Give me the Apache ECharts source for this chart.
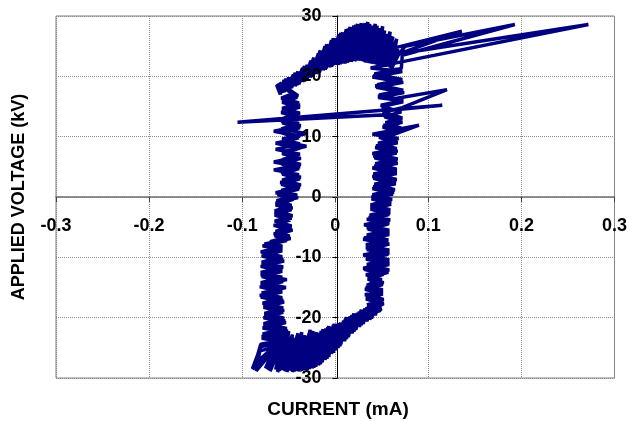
<!DOCTYPE html>
<html>
<head>
<meta charset="utf-8">
<script src="https://cdn.jsdelivr.net/npm/echarts@6/dist/echarts.min.js"></script>
<style>
html,body{margin:0;padding:0;background:#fff;}
#chart{width:630px;height:421px;}
</style>
</head>
<body>
<div id="chart"></div>
<script>
// ---- Data: [current (mA), applied voltage (kV)] pairs, in drawing order ----
const xTicks = [-0.3, -0.2, -0.1, 0, 0.1, 0.2, 0.3];
const yTicks = [-30, -20, -10, 0, 10, 20, 30];

const rightUp1 = [[0.042,-18.9],[0.036,-18.2],[0.051,-17.4],[0.034,-16.6],[0.051,-15.9],[0.033,-15.0],[0.052,-14.2],[0.035,-13.4],[0.057,-12.5],[0.030,-11.8],[0.058,-11.0],[0.034,-10.1],[0.058,-9.3],[0.033,-8.4],[0.057,-7.6],[0.031,-6.8],[0.058,-6.0],[0.034,-5.1],[0.058,-4.3],[0.036,-3.4],[0.059,-2.6],[0.038,-1.8],[0.060,-0.9],[0.039,0.0],[0.063,0.8],[0.041,1.7],[0.065,2.5],[0.040,3.4],[0.066,4.2],[0.042,5.1],[0.066,5.9],[0.041,6.8],[0.067,7.6],[0.044,8.5],[0.066,9.3],[0.048,10.2],[0.070,11.0],[0.052,11.9],[0.071,12.7],[0.050,13.6]];
const midSpike1 = [[-0.105,12.4],[0.115,15.2],[0.062,14.4]];
const rightTop1 = [[0.049,15.2],[0.073,16.0],[0.047,16.9],[0.073,17.7],[0.045,18.6],[0.072,19.5],[0.042,20.4],[0.071,21.3],[0.072,23.5]];
const topSpike1 = [[0.193,28.6],[0.075,25.0]];
const topArc1 = [[0.058,21.5],[0.064,25.4],[0.050,21.8],[0.056,27.0],[0.043,22.0],[0.047,28.0],[0.036,22.2],[0.040,28.4],[0.029,22.5],[0.032,28.8],[0.021,22.5],[0.024,28.7],[0.013,22.3],[0.016,28.2],[0.005,22.0],[0.008,27.3],[-0.003,21.8],[0.000,26.3],[-0.010,21.3],[-0.007,25.3],[-0.017,20.7],[-0.014,24.2],[-0.024,20.0],[-0.021,23.0],[-0.031,19.4],[-0.030,21.9],[-0.039,18.7],[-0.040,20.8],[-0.047,18.1],[-0.050,19.8],[-0.055,17.4],[-0.060,18.9]];
const leftDown1 = [[-0.040,16.8],[-0.057,16.0],[-0.038,15.2],[-0.057,14.3],[-0.039,13.5],[-0.058,12.6],[-0.037,11.8],[-0.066,10.9],[-0.038,10.1],[-0.057,9.2],[-0.031,8.4],[-0.057,7.5],[-0.039,6.7],[-0.066,5.8],[-0.038,5.0],[-0.058,4.1],[-0.037,3.3],[-0.059,2.4],[-0.038,1.6],[-0.064,0.7],[-0.040,-0.1],[-0.064,-1.0],[-0.046,-1.8],[-0.065,-2.7],[-0.047,-3.5],[-0.064,-4.4],[-0.047,-5.2],[-0.066,-6.1],[-0.048,-6.9],[-0.076,-7.8],[-0.057,-8.6],[-0.078,-9.5],[-0.056,-10.3],[-0.079,-11.2],[-0.057,-12.0],[-0.080,-12.9],[-0.052,-13.7],[-0.080,-14.6],[-0.057,-15.4],[-0.081,-16.3],[-0.056,-17.1],[-0.077,-18.0],[-0.055,-18.8],[-0.076,-19.7],[-0.054,-20.5],[-0.077,-21.4],[-0.051,-22.2],[-0.079,-23.1],[-0.048,-23.9],[-0.080,-24.8]];
const bottomArc1 = [[-0.089,-28.5],[-0.066,-25.2],[-0.075,-28.4],[-0.056,-23.0],[-0.064,-28.6],[-0.050,-22.2],[-0.056,-28.7],[-0.043,-23.4],[-0.048,-28.8],[-0.036,-22.4],[-0.040,-28.9],[-0.030,-23.0],[-0.032,-28.7],[-0.024,-22.2],[-0.025,-28.4],[-0.017,-22.5],[-0.018,-27.9],[-0.010,-21.8],[-0.011,-27.0],[-0.004,-21.5],[-0.004,-26.0],[0.002,-21.0],[0.003,-25.0],[0.009,-20.5],[0.010,-23.9],[0.016,-19.8],[0.018,-22.6],[0.024,-19.2],[0.026,-21.5],[0.032,-18.5],[0.034,-20.6],[0.040,-17.8],[0.043,-19.6],[0.048,-17.2]];
const rightUp2 = [[0.034,-17.9],[0.052,-17.0],[0.032,-16.2],[0.051,-15.4],[0.034,-14.6],[0.050,-13.7],[0.033,-12.9],[0.058,-12.1],[0.034,-11.2],[0.058,-10.4],[0.030,-9.6],[0.058,-8.8],[0.033,-7.9],[0.057,-7.1],[0.034,-6.3],[0.058,-5.5],[0.031,-4.6],[0.059,-3.8],[0.037,-3.0],[0.059,-2.1],[0.038,-1.3],[0.061,-0.4],[0.040,0.4],[0.064,1.2],[0.042,2.1],[0.066,2.9],[0.041,3.8],[0.066,4.6],[0.043,5.5],[0.067,6.3],[0.040,7.2],[0.066,8.0],[0.046,8.9],[0.068,9.7]];
const midSpike2 = [[0.040,10.4],[0.090,11.9],[0.058,10.1]];
const rightUp2b = [[0.050,10.6],[0.071,11.4],[0.054,12.3],[0.072,13.1],[0.051,14.0],[0.072,14.8]];
const midSpike3 = [[0.120,17.8],[0.060,16.2]];
const rightTop2 = [[0.046,16.5],[0.074,17.3],[0.044,18.2],[0.073,19.0],[0.040,19.9],[0.072,20.8],[0.038,21.4],[0.071,22.4]];
const topSpike2 = [[0.272,28.6],[0.070,23.8],[0.136,27.5],[0.066,24.8]];
const topArc2 = [[0.061,22.0],[0.066,26.2],[0.054,21.6],[0.059,27.4],[0.046,21.9],[0.051,28.3],[0.039,22.1],[0.043,28.7],[0.032,22.3],[0.035,29.0],[0.025,22.6],[0.028,28.8],[0.017,22.4],[0.020,28.4],[0.009,22.1],[0.012,27.8],[0.001,21.9],[0.004,27.0],[-0.006,21.5],[-0.004,26.0],[-0.013,21.0],[-0.011,25.0],[-0.020,20.4],[-0.018,23.8],[-0.027,19.8],[-0.026,22.6],[-0.035,19.1],[-0.035,21.4],[-0.043,18.4],[-0.045,20.3],[-0.051,17.8],[-0.055,19.4],[-0.059,17.0],[-0.063,18.6]];
const leftDown2 = [[-0.044,17.2],[-0.058,16.4],[-0.039,15.6],[-0.057,14.7],[-0.038,13.9],[-0.057,13.0],[-0.039,12.2],[-0.058,11.3],[-0.031,10.5],[-0.057,9.6],[-0.038,8.8],[-0.064,7.9],[-0.038,7.1],[-0.057,6.2],[-0.037,5.4],[-0.066,4.5],[-0.039,3.7],[-0.057,2.8],[-0.037,2.0],[-0.058,1.1],[-0.041,0.3],[-0.063,-0.6],[-0.047,-1.4],[-0.065,-2.3],[-0.046,-3.1],[-0.065,-4.0],[-0.047,-4.8],[-0.064,-5.7],[-0.049,-6.5],[-0.070,-7.4],[-0.057,-8.2],[-0.080,-9.1],[-0.057,-9.9],[-0.079,-10.8],[-0.056,-11.6],[-0.080,-12.5],[-0.057,-13.3],[-0.080,-14.2],[-0.053,-15.0],[-0.079,-15.9],[-0.057,-16.7],[-0.078,-17.6],[-0.056,-18.4],[-0.076,-19.3],[-0.055,-20.1],[-0.077,-21.0],[-0.052,-21.8],[-0.078,-22.7],[-0.050,-23.5],[-0.080,-24.4]];
const bottomArc2 = [[-0.086,-27.6],[-0.060,-24.0],[-0.070,-28.9],[-0.053,-22.5],[-0.060,-28.8],[-0.046,-22.8],[-0.052,-29.0],[-0.040,-22.6],[-0.044,-28.9],[-0.033,-22.9],[-0.036,-28.8],[-0.027,-22.0],[-0.028,-28.5],[-0.020,-22.4],[-0.021,-28.1],[-0.013,-21.9],[-0.014,-27.4],[-0.007,-21.4],[-0.007,-26.5],[-0.001,-21.0],[0.000,-25.4],[0.006,-20.8],[0.006,-24.4],[0.012,-19.9],[0.014,-23.2],[0.020,-19.3],[0.022,-22.0],[0.028,-18.7],[0.030,-21.0],[0.036,-18.0],[0.039,-20.1],[0.046,-17.3],[0.049,-18.8]];
const rightUp3 = [[0.040,-18.6],[0.052,-17.7],[0.033,-16.9],[0.051,-16.1],[0.032,-15.3],[0.051,-14.5],[0.035,-13.6],[0.052,-12.8],[0.031,-12.0],[0.058,-11.2],[0.033,-10.3],[0.057,-9.5],[0.034,-8.7],[0.058,-7.8],[0.030,-7.0],[0.058,-6.2],[0.035,-5.3],[0.057,-4.5],[0.034,-3.7],[0.058,-2.9],[0.038,-2.0],[0.060,-1.2],[0.039,-0.3],[0.062,0.5],[0.040,1.4],[0.065,2.2],[0.041,3.1],[0.066,3.9],[0.040,4.8],[0.067,5.6],[0.042,6.5],[0.066,7.3],[0.043,8.2],[0.067,9.0],[0.047,9.9],[0.069,10.7],[0.051,11.6],[0.072,12.4],[0.053,13.3],[0.071,14.1],[0.050,15.0],[0.073,15.8],[0.046,16.7],[0.073,17.5],[0.043,18.4],[0.072,19.3],[0.041,20.1],[0.071,21.0],[0.060,21.2],[0.070,24.2]];
const topArc3 = [[0.063,22.6],[0.068,25.0],[0.055,22.2],[0.062,26.6],[0.048,22.4],[0.053,27.6],[0.041,22.3],[0.045,28.4],[0.034,22.5],[0.037,28.7],[0.027,22.7],[0.030,28.6],[0.019,22.6],[0.022,28.5],[0.011,22.2],[0.014,27.9],[0.003,21.9],[0.006,27.2],[-0.004,21.6],[-0.002,26.3],[-0.011,21.1],[-0.009,25.3],[-0.018,20.6],[-0.016,24.3],[-0.025,20.0],[-0.023,23.1],[-0.033,19.2],[-0.033,21.7],[-0.041,18.6],[-0.043,20.6],[-0.049,17.9],[-0.053,19.6],[-0.057,17.3],[-0.061,18.8]];
const leftDown3 = [[-0.041,16.5],[-0.057,15.7],[-0.038,14.9],[-0.058,14.0],[-0.039,13.2],[-0.057,12.3],[-0.038,11.5],[-0.057,10.6],[-0.039,9.8],[-0.064,8.9],[-0.038,8.1],[-0.057,7.2],[-0.037,6.4],[-0.058,5.5],[-0.039,4.7],[-0.057,3.8],[-0.038,3.0],[-0.058,2.1],[-0.039,1.3],[-0.062,0.4],[-0.045,-0.4],[-0.064,-1.3],[-0.047,-2.1],[-0.065,-3.0],[-0.048,-3.8],[-0.066,-4.7],[-0.046,-5.5],[-0.065,-6.4],[-0.052,-7.2],[-0.078,-8.1],[-0.057,-8.9],[-0.079,-9.8],[-0.055,-10.6],[-0.080,-11.5],[-0.057,-12.3],[-0.079,-13.2],[-0.056,-14.0],[-0.081,-14.9],[-0.057,-15.7],[-0.080,-16.6],[-0.055,-17.4],[-0.077,-18.3],[-0.056,-19.1],[-0.077,-20.0],[-0.053,-20.8],[-0.078,-21.7],[-0.050,-22.5],[-0.079,-23.4],[-0.047,-24.2],[-0.081,-25.5]];
const bottomArc3 = [[-0.085,-28.8],[-0.062,-24.6],[-0.072,-28.7],[-0.054,-23.2],[-0.062,-29.0],[-0.047,-23.8],[-0.054,-28.9],[-0.041,-23.1],[-0.046,-29.0],[-0.034,-23.5],[-0.038,-28.9],[-0.028,-22.6],[-0.030,-28.6],[-0.022,-22.8],[-0.023,-28.3],[-0.015,-22.2],[-0.016,-27.7],[-0.008,-21.6],[-0.009,-26.8],[-0.002,-21.2],[-0.002,-25.8],[0.004,-20.9],[0.005,-24.7],[0.011,-20.2],[0.012,-23.5],[0.018,-19.6],[0.020,-22.3],[0.026,-19.0],[0.028,-21.2],[0.034,-18.3],[0.037,-20.3],[0.044,-17.6],[0.047,-19.2]];

const loopPoints = [].concat(
  rightUp1, midSpike1, rightTop1, topSpike1, topArc1, leftDown1, bottomArc1,
  rightUp2, midSpike2, rightUp2b, midSpike3, rightTop2, topSpike2, topArc2, leftDown2, bottomArc2,
  rightUp3, topArc3, leftDown3, bottomArc3
);

// ---- Chart ----
const FONT = '"Liberation Sans", Arial, sans-serif';
const GRID = {left: 56, right: 11, top: 16, bottom: 43};
const W = 630, H = 421;
const plotW = W - GRID.left - GRID.right, plotH = H - GRID.top - GRID.bottom;
const xMin = xTicks[0], xMax = xTicks[xTicks.length - 1];
const yMin = yTicks[0], yMax = yTicks[yTicks.length - 1];
// shift axes so they cross at zero (offset is measured outward from the grid edge)
const yAxisOffset = -plotW * (0 - xMin) / (xMax - xMin);
const xAxisOffset = -plotH * (0 - yMin) / (yMax - yMin);

const chart = echarts.init(document.getElementById('chart'), null, {renderer: 'canvas'});
const fmt = v => {
  const r = Math.round(v * 10) / 10;
  return (Math.abs(r) < 1e-9 ? 0 : r).toString();
};
const gridLine = {show: true, lineStyle: {color: '#8c8c8c', width: 1, type: [1, 1]}};
const labelStyle = {fontSize: 18, fontWeight: 'bold', color: '#000', fontFamily: FONT};
chart.setOption({
  animation: false,
  backgroundColor: '#ffffff',
  grid: Object.assign({show: true, borderColor: '#808080', borderWidth: 1, containLabel: false}, GRID),
  xAxis: [
    { // lines, ticks and gridlines (behind the data)
      type: 'value', min: xMin, max: xMax, interval: 0.1, position: 'bottom', offset: xAxisOffset, z: 0,
      axisLine: {show: true, onZero: false, lineStyle: {color: '#6e6e6e', width: 1.5}},
      axisTick: {show: true, length: 5, lineStyle: {color: '#444'}},
      axisLabel: {show: false},
      splitLine: gridLine
    },
    { // tick labels (drawn over the data)
      type: 'value', min: xMin, max: xMax, interval: 0.1, position: 'bottom', offset: xAxisOffset, z: 10,
      axisLine: {show: false, onZero: false}, axisTick: {show: false}, splitLine: {show: false},
      axisLabel: Object.assign({margin: 20, formatter: fmt, hideOverlap: false}, labelStyle)
    }
  ],
  yAxis: [
    {
      type: 'value', min: yMin, max: yMax, interval: 10, position: 'left', offset: yAxisOffset, z: 0,
      axisLine: {show: true, onZero: false, lineStyle: {color: '#000', width: 1}},
      axisTick: {show: true, length: 5, lineStyle: {color: '#000'}},
      axisLabel: {show: false},
      splitLine: gridLine
    },
    {
      type: 'value', min: yMin, max: yMax, interval: 10, position: 'left', offset: yAxisOffset, z: 10,
      axisLine: {show: false, onZero: false}, axisTick: {show: false}, splitLine: {show: false},
      axisLabel: Object.assign({margin: 16}, labelStyle)
    }
  ],
  series: [{
    type: 'line',
    xAxisIndex: 0, yAxisIndex: 0,
    data: loopPoints,
    showSymbol: false,
    symbol: 'none',
    sampling: null,
    clip: true,
    lineStyle: {color: '#000080', width: 3.5},
    z: 5
  }],
  graphic: [
    {type: 'text', x: 19, y: 197, rotation: Math.PI / 2,
     style: {text: 'APPLIED VOLTAGE (kV)', font: 'bold 18px ' + FONT, fill: '#000', textAlign: 'center', textVerticalAlign: 'middle', verticalAlign: 'middle'}},
    {type: 'text', x: 338, y: 410,
     style: {text: 'CURRENT (mA)', font: 'bold 19px ' + FONT, fill: '#000', textAlign: 'center', textVerticalAlign: 'middle', verticalAlign: 'middle'}}
  ]
});
</script>
</body>
</html>
